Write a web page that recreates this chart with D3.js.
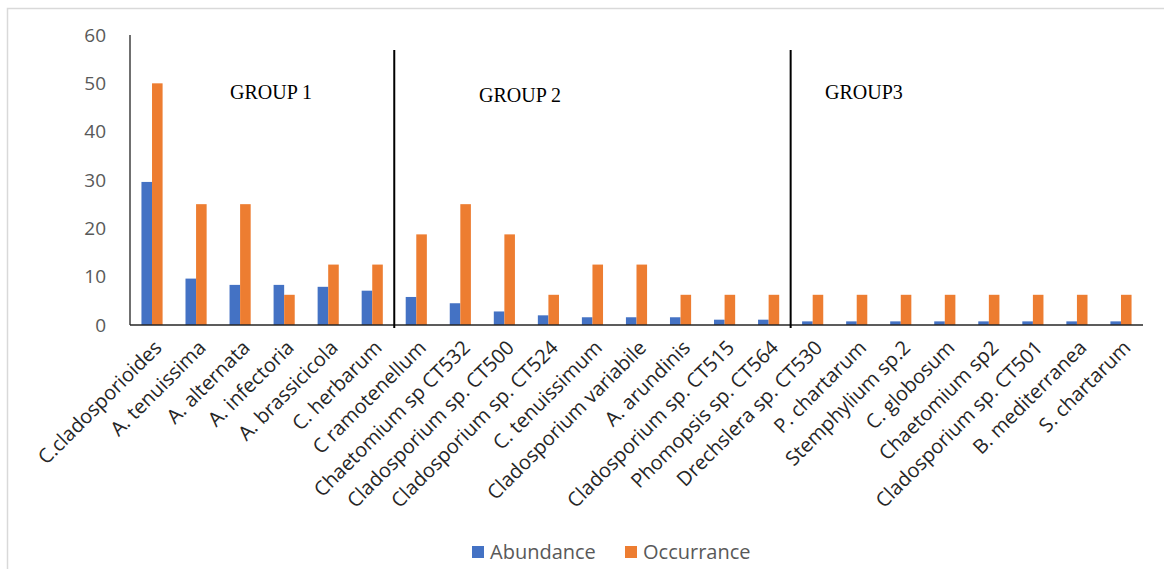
<!DOCTYPE html>
<html>
<head>
<meta charset="utf-8">
<script src="https://cdn.jsdelivr.net/npm/d3@7"></script>
<style>
  body { margin: 0; background: #fff; }
  svg { display: block; }
  .tick-label { font-family: "Open Sans", sans-serif; font-size: 19px; fill: #595959; }
  .cat-label { font-family: "Open Sans", sans-serif; font-size: 20px; fill: #262626; }
  .group-label { font-family: "Liberation Serif", "Times New Roman", serif; font-size: 20px; fill: #000; }
  .legend-label { font-family: "Open Sans", sans-serif; font-size: 20px; fill: #595959; }
</style>
</head>
<body>
<div id="chart-area"></div>
<script>
// Data
const categories = [
  "C.cladosporioides", "A. tenuissima", "A. alternata", "A. infectoria",
  "A. brassicicola", "C. herbarum", "C ramotenellum", "Chaetomium sp CT532",
  "Cladosporium sp. CT500", "Cladosporium sp. CT524", "C. tenuissimum",
  "Cladosporium variabile", "A. arundinis", "Cladosporium sp. CT515",
  "Phomopsis sp. CT564", "Drechslera sp. CT530", "P. chartarum",
  "Stemphylium sp.2", "C. globosum", "Chaetomium sp2",
  "Cladosporium sp. CT501", "B. mediterranea", "S. chartarum"
];
const abundance = [29.6, 9.6, 8.3, 8.3, 7.9, 7.1, 5.8, 4.5, 2.8, 2.0, 1.6, 1.6, 1.6, 1.1, 1.1,
  0.75, 0.75, 0.75, 0.75, 0.75, 0.75, 0.75, 0.75];
const occurrance = [50, 25, 25, 6.25, 12.5, 12.5, 18.75, 25, 18.75, 6.25, 12.5, 12.5, 6.25, 6.25, 6.25,
  6.25, 6.25, 6.25, 6.25, 6.25, 6.25, 6.25, 6.25];
const seriesNames = ["Abundance", "Occurrance"];
const seriesColors = ["#4472C4", "#ED7D31"];
const yTicks = [0, 10, 20, 30, 40, 50, 60];
const groupNames = ["GROUP 1", "GROUP 2", "GROUP3"];
const groupStarts = [0, 6, 15]; // first category index of each group

const width = 1164, height = 569;
const plot = { left: 130, right: 1143, top: 35, bottom: 325 };

const svg = d3.select("#chart-area").append("svg")
  .attr("width", width)
  .attr("height", height);

// chart frame (light border)
svg.append("rect")
  .attr("x", 7.5).attr("y", 8.5)
  .attr("width", width).attr("height", height)
  .attr("fill", "none")
  .attr("stroke", "#d9d9d9")
  .attr("stroke-width", 1.5);

// scales
const x = d3.scaleBand()
  .domain(categories)
  .range([plot.left, plot.right])
  .paddingInner(0.52)
  .paddingOuter(0.26);

const x1 = d3.scaleBand()
  .domain(seriesNames)
  .range([0, x.bandwidth()]);

const y = d3.scaleLinear()
  .domain([0, 60])
  .range([plot.bottom, plot.top]);

// bars
const rows = categories.map((c, i) => ({ cat: c, values: [abundance[i], occurrance[i]] }));

const groups = svg.append("g").selectAll("g")
  .data(rows)
  .enter().append("g")
  .attr("transform", d => `translate(${x(d.cat)},0)`);

groups.selectAll("rect")
  .data(d => d.values.map((v, k) => ({ key: seriesNames[k], v: v, k: k })))
  .enter().append("rect")
  .attr("x", d => x1(d.key))
  .attr("y", d => y(d.v))
  .attr("width", x1.bandwidth())
  .attr("height", d => y(0) - y(d.v))
  .attr("fill", d => seriesColors[d.k]);

// y axis (labels only, plus line)
const yAxis = d3.axisLeft(y).tickValues(yTicks).tickSize(0).tickPadding(24);
const yg = svg.append("g")
  .attr("transform", `translate(${plot.left},0)`)
  .call(yAxis);
yg.select(".domain").remove();
yg.selectAll("text").attr("class", "tick-label").attr("font-size", null).attr("font-family", null);

svg.append("line")
  .attr("x1", plot.left).attr("x2", plot.left)
  .attr("y1", plot.top).attr("y2", plot.bottom)
  .attr("stroke", "#404040").attr("stroke-width", 1.5);

// x axis line
svg.append("line")
  .attr("x1", plot.left).attr("x2", plot.right)
  .attr("y1", plot.bottom).attr("y2", plot.bottom)
  .attr("stroke", "#262626").attr("stroke-width", 1.5);

// category labels, rotated
svg.append("g").selectAll("text")
  .data(categories)
  .enter().append("text")
  .attr("class", "cat-label")
  .attr("text-anchor", "end")
  .attr("transform", d => `translate(${x(d) + x.bandwidth() / 2 + 6},${plot.bottom + 19}) rotate(-45)`)
  .attr("dy", "0.35em")
  .text(d => d);

// group separators
const step = x.step();
const gap = step - x.bandwidth();
groupStarts.slice(1).forEach(i => {
  const sx = x(categories[i]) - gap / 2;
  svg.append("line")
    .attr("x1", sx).attr("x2", sx)
    .attr("y1", 50).attr("y2", plot.bottom + 3)
    .attr("stroke", "#000").attr("stroke-width", 2);
});

// group labels
const groupLabelPos = [[230, 99], [479, 102], [825, 99]];
svg.append("g").selectAll("text")
  .data(groupNames)
  .enter().append("text")
  .attr("class", "group-label")
  .attr("x", (d, i) => groupLabelPos[i][0])
  .attr("y", (d, i) => groupLabelPos[i][1])
  .text(d => d);

// legend
const legendX = [472, 625];
const legend = svg.append("g").selectAll("g")
  .data(seriesNames)
  .enter().append("g")
  .attr("transform", (d, i) => `translate(${legendX[i]},546)`);

legend.append("rect")
  .attr("width", 12).attr("height", 12)
  .attr("fill", (d, i) => seriesColors[i]);

legend.append("text")
  .attr("class", "legend-label")
  .attr("x", 18)
  .attr("y", 6)
  .attr("dy", "0.35em")
  .text(d => d);
</script>
</body>
</html>
